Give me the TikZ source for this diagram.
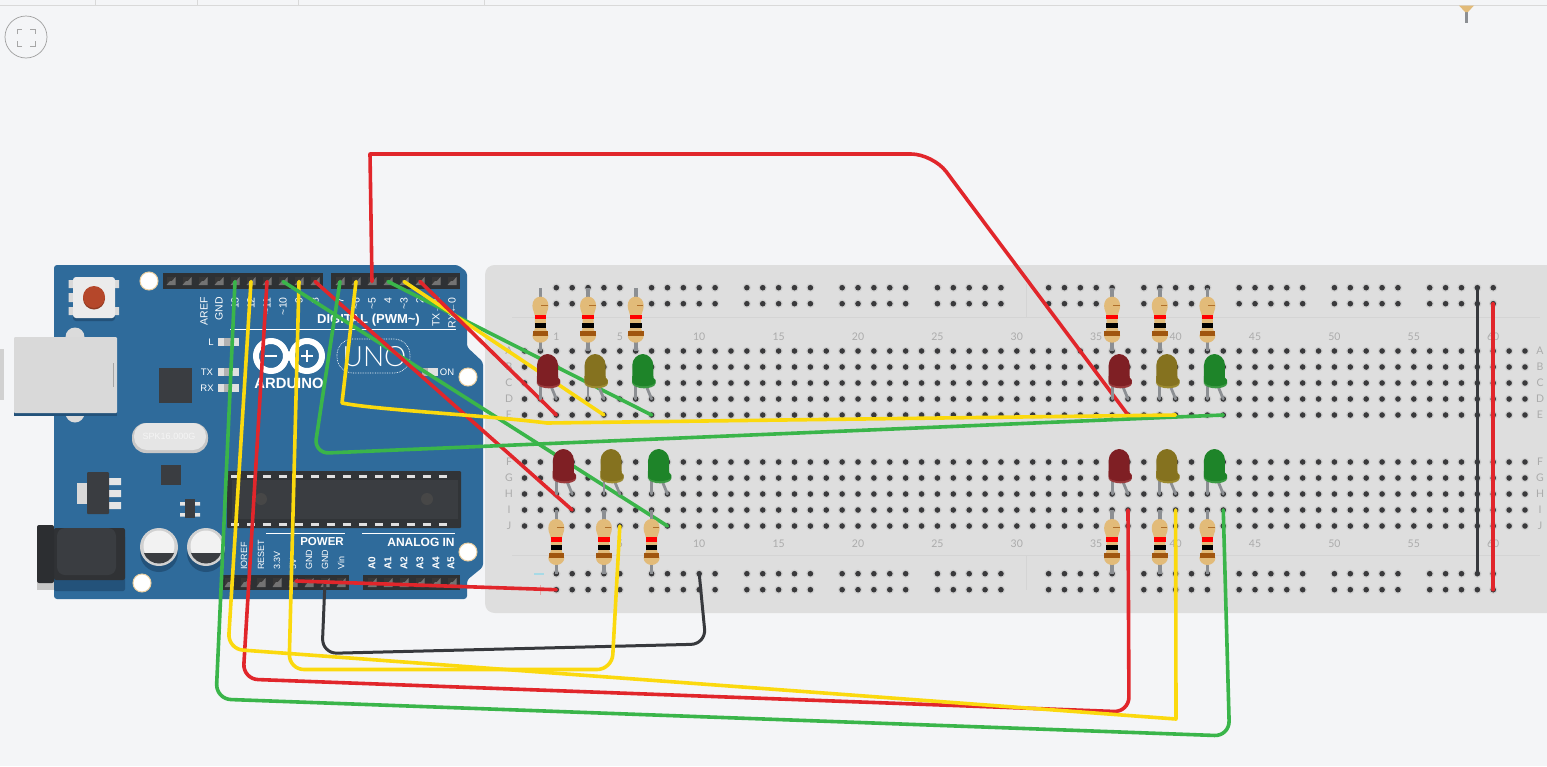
\documentclass[tikz,border=0pt]{standalone}
\usepackage{fontspec}
\setmainfont{Liberation Sans}
\newfontfamily\thinfont{Lato}
\newfontfamily\unofont{Lato Light}
\usetikzlibrary{calc}
\definecolor{bgc}{HTML}{F4F5F7}
\definecolor{boardc}{HTML}{DEDEDE}
\definecolor{unoblue}{HTML}{2F6B9B}
\definecolor{unoshade}{HTML}{23527A}
\definecolor{chipc}{HTML}{3A3D41}
\definecolor{holec}{HTML}{3A3A3C}
\definecolor{halo}{HTML}{CFCFCF}
\definecolor{wred}{HTML}{E1262B}
\definecolor{wyel}{HTML}{FBD90E}
\definecolor{wgrn}{HTML}{3AB54A}
\definecolor{wblk}{HTML}{37393D}
\definecolor{ledr}{HTML}{7F1F24}
\definecolor{ledrb}{HTML}{9A3A3C}
\definecolor{ledy}{HTML}{85721F}
\definecolor{ledyb}{HTML}{9C8A30}
\definecolor{ledg}{HTML}{1E8429}
\definecolor{ledgb}{HTML}{3C9A44}
\definecolor{legc}{HTML}{8C8F93}
\definecolor{resb}{HTML}{E2BB79}
\definecolor{brownb}{HTML}{A0560F}
\definecolor{labelc}{HTML}{ABABAB}
\definecolor{btnc}{HTML}{B5472A}
\definecolor{btns}{HTML}{8F3A22}
\tikzset{
  wire/.style={line width=3.6pt,line cap=round,line join=round},
  unotext/.style={text=white,font=\bfseries\fontsize{10}{10}\selectfont,inner sep=0pt},
  unorot/.style={text=white,font=\fontsize{10.5}{10}\selectfont,inner sep=0pt,rotate=90,anchor=east},
  unoup/.style={text=white,font=\fontsize{9.5}{10}\selectfont,inner sep=0pt,rotate=90,anchor=west},
  boardlabel/.style={text=labelc,font=\thinfont\fontsize{10.5}{10}\selectfont,inner sep=0pt},
}
\newcommand{\hx}[1]{{556.3+15.88*(#1)}}
\newcommand{\hole}[2]{\fill[halo] (#1,#2) circle (4.2);\fill[holec] (#1,#2) circle (2.8);}
\newcommand{\resistor}[3]{% column, lead top y, unused
  \begin{scope}[shift={({\hx{#1}},#2)}]
    \fill[legc] (-1.8,0) rectangle (1.8,63.7);
    \fill[resb] (0,9) .. controls (5,9) and (8,13) .. (8,18) .. controls (8,23) and (5.5,25) .. (5.5,28) -- (5.5,41) .. controls (5.5,43) and (8,45) .. (8,48) .. controls (8,52) and (4,55) .. (0,55) .. controls (-4,55) and (-8,52) .. (-8,48) .. controls (-8,45) and (-5.5,43) .. (-5.5,41) -- (-5.5,28) .. controls (-5.5,25) and (-8,23) .. (-8,18) .. controls (-8,13) and (-5,9) .. (0,9) -- cycle;
    \fill[red] (-5.8,27) rectangle (5.8,31.6);
    \fill[black] (-5.8,35.2) rectangle (5.8,39.8);
    \fill[brownb] (-7.8,43.2) rectangle (7.8,47.8);
    \fill[brownb!75!resb] (1,17.2) rectangle (7.5,18);
  \end{scope}}
\newcommand{\ledlamp}[4]{% column, top y, fill, rim
  \begin{scope}[shift={({\hx{#1}},#2)}]
    \draw[legc,line width=2.8pt,line cap=round] (0,32) -- (0,45);
    \draw[legc,line width=2.8pt,line cap=round] (10.5,32) -- (15.9,45);
    \fill[#4] (-3.6,22) -- (-3.6,29) .. controls (-2,36) and (18.5,36) .. (19.8,29.5) -- (19.8,26) -- (17.6,23.5) -- (17.6,22) -- cycle;
    \fill[#3] (-3.4,11) .. controls (-3.4,5) and (1.8,0) .. (7.1,0) .. controls (12.4,0) and (17.6,5) .. (17.6,11) -- (17.6,24) -- (19.6,26.5) -- (19.6,28.5) .. controls (18,33) and (-2,34) .. (-3.4,27.5) -- cycle;
  \end{scope}}
\begin{document}
\begin{tikzpicture}[x=1pt,y=-1pt]
\useasboundingbox (0,0) rectangle (1547,766);
\fill[bgc] (0,0) rectangle (1547,766);
% top chrome
\draw[black!15,line width=.8pt] (0,5.5) -- (1547,5.5);
\foreach \x in {95,197,298,484} \draw[black!15,line width=.8pt] (\x,0) -- (\x,5.5);
\draw[black!38,line width=.7pt,fill=bgc] (26,37) circle (21);
\draw[black!35,line width=1pt] (17,34) -- (17,29) -- (22,29) (30,29) -- (35,29) -- (35,34) (35,41) -- (35,46) -- (30,46) (22,46) -- (17,46) -- (17,41);
\fill[legc] (1465,8) rectangle (1468,23);
\fill[resb] (1459,5.5) -- (1474,5.5) -- (1468,12) -- (1465,12) -- cycle;
% left edge stub
\fill[black!18] (0,349) rectangle (4,400);
%---------- breadboard
\fill[boardc] (495,265) -- (1560,265) -- (1560,613) -- (495,613) .. controls (490,613) and (485,610) .. (485,603) -- (485,275) .. controls (485,268) and (490,265) .. (495,265) -- cycle;
\draw[black!17,line width=.6pt] (512,317) -- (1540,317) (512,555.5) -- (1540,555.5);
\draw[black!17,line width=.6pt] (1026,284) -- (1026,317) (1026,555.5) -- (1026,590);
\foreach \y in {351,367,383,399,415,462,478,494,510,526}
  \foreach \i in {-2,...,61} {\pgfmathsetmacro{\xx}{556.3+15.88*\i}\hole{\xx}{\y}}
\foreach \y in {287.7,303.7,573.7,589.7}
  \foreach \g in {0,6,12,18,24,31,37,43,49,55}
    \foreach \k in {0,...,4} {\pgfmathsetmacro{\xx}{556.3+15.88*(\g+\k)}\hole{\xx}{\y}}
\fill[blue!20!cyan!25!boardc] (534,573) rectangle (544,574.5);
\draw[red!25!boardc,line width=.8pt] (535,590) -- (545,590) (540,585) -- (540,595);
\foreach \n/\x in {1/556.3,5/619.8,10/699.2,15/778.6,20/858,25/937.4,30/1016.8,35/1096.2,40/1175.6,45/1255,50/1334.4,55/1413.8,60/1493.2} {
  \node[boardlabel] (tn\n) at (\x,337) {\n};
  \node[boardlabel] (bn\n) at (\x,543.5) {\n};
}
\foreach \t/\y in {A/351,B/367,C/383,D/399,E/415,F/462,G/478,H/494,I/510,J/526} {
  \node[boardlabel] (ll\t) at (509,\y) {\t};
  \node[boardlabel] (rl\t) at (1540,\y) {\t};
}
%---------- Arduino
\fill[unoblue,rounded corners=3] (54,265) -- (458,265) -- (467,272) -- (467,347) -- (483,362) -- (483,567) -- (467,580) -- (467,599) -- (54,599) -- cycle;
% USB
\fill[black!14] (75,337) circle (9.5) (75,413) circle (9.5);
\fill[unoshade] (14,339) rectangle (117,415.5);
\fill[black!15,rounded corners=1] (14,337) rectangle (117,413);
\draw[black!35,line width=.7pt] (113.5,363) -- (113.5,387);
% reset button
\fill[unoshade,rounded corners=3] (73,280) rectangle (115,321);
\fill[black!15] (68.5,280) rectangle (73,288) (68.5,293) rectangle (73,302) (68.5,307) rectangle (73,315) (115,280) rectangle (119,288) (115,307) rectangle (119,315);
\fill[black!8,rounded corners=3] (73,277) rectangle (115,318);
\fill[btns] (94,298.5) circle (11);
\fill[btnc] (94,297) circle (11);
% header strips
\fill[chipc!80!black] (163,273) rectangle (323,289);
\fill[chipc!80!black] (331,273) rectangle (460,289);
\fill[chipc!80!black] (223,575) rectangle (349,590);
\fill[chipc!80!black] (363,575) rectangle (460,590);
\foreach \x in {171,187,...,315,340,356,...,452}
  {\fill[black!78] (\x-4.5,277) rectangle (\x+4.5,285); \fill[black!55] (\x+4.5,277) -- (\x+4.5,285) -- (\x-4.5,285) -- (\x-1,281) -- (\x+1,281) -- cycle;}
\foreach \x in {229,245,...,341,372,388,...,452}
  {\fill[black!78] (\x-4.5,578) rectangle (\x+4.5,587); \fill[black!55] (\x+4.5,578) -- (\x+4.5,587) -- (\x-4.5,587) -- (\x-1,582) -- (\x+1,582) -- cycle;}
% mounting holes
\foreach \n/\x/\y in {m1/149/281,m2/468/377,m3/468/552,m4/142/583}
  \node[circle,draw=resb!70!white,line width=1pt,fill=white,minimum size=18pt,inner sep=0pt] (\n) at (\x,\y) {};
% silk text
\foreach \n/\x/\t in {a/204/AREF,b/219/GND,c/235/13,d/251/12,e/267/\textasciitilde 11,f/283/\textasciitilde 10,g/299/9,h/315/8,i/340/7,j/356/\textasciitilde 6,k/372/\textasciitilde 5,l/388/4,m/404/\textasciitilde 3,n/420/2,o/436/TX→1,p/452/RX←0}
  \node[unorot] (top\n) at (\x,297) {\t};
\node[unotext,anchor=east,font=\bfseries\fontsize{13}{13}\selectfont] (digital) at (420,320.5) {DIGITAL (PWM\textasciitilde)};
\draw[white,line width=1pt] (230,329) -- (456,329);
\node[unotext,font=\fontsize{9.5}{10}\selectfont] (lL) at (211,342) {L};
\node[unotext,font=\fontsize{9.5}{10}\selectfont] (lTX) at (207,372.5) {TX};
\node[unotext,font=\fontsize{9.5}{10}\selectfont] (lRX) at (207,388) {RX};
\node[unotext,font=\fontsize{9.5}{10}\selectfont] (lON) at (447,372) {ON};
\foreach \y in {342,372,388} {\fill[black!12] (218,\y-3.8) rectangle (239,\y+3.8); \fill[black!30] (224,\y-3.8) rectangle (232,\y+3.8);}
\fill[black!12] (422,368) rectangle (438,375.5); \fill[black!30] (422,368) rectangle (428,375.5);
% logo
\draw[white,line width=5pt] (280,345) -- (298,367) (280,367) -- (298,345);
\fill[unoblue] (271,356) circle (12) (307,356) circle (12);
\draw[white,line width=6pt] (271,356) circle (15) (307,356) circle (15);
\draw[white,line width=2.2pt] (265,356) -- (277,356) (301,356) -- (313,356) (307,350) -- (307,362);
\node[unotext,font=\bfseries\fontsize{14.8}{15}\selectfont] (ardu) at (289,383) {ARDUINO};
\node[text=white,inner sep=0pt,font=\unofont\fontsize{28}{28}\selectfont] (uno) at (374.5,356.5) {UNO};
\draw[white,densely dotted,line width=.7pt,rounded corners=16] (337,339) rectangle (410,373);
\node[unotext,font=\bfseries\fontsize{11.5}{12}\selectfont] (lpower) at (322,542) {POWER};
\node[unotext,font=\bfseries\fontsize{12}{12}\selectfont] (lanalog) at (421,542) {ANALOG IN};
\draw[white,line width=1pt] (266,533) -- (345,533) (362,533) -- (455,533);
\foreach \n/\x/\t in {a/244/IOREF,b/261/RESET,c/277/3.3V,d/293/5V,e/309/GND,f/325/GND,g/341/Vin}
  \node[unoup,font=\fontsize{9}{10}\selectfont] (bot\n) at (\x,570) {\t};
\foreach \n/\x/\t in {a/372/A0,b/388/A1,c/404/A2,d/420/A3,e/436/A4,f/451/A5}
  \node[unoup,font=\bfseries\fontsize{10}{10}\selectfont] (an\n) at (\x,570) {\t};
% ICs
\fill[chipc] (159,368) rectangle (192,403);
\fill[chipc] (161,465) rectangle (181,485);
\fill[black!10] (109,478) rectangle (121,485) (109,490) rectangle (121,497) (109,502) rectangle (121,509);
\fill[white!85!black] (77,483) rectangle (87,504);
\fill[chipc,rounded corners=1] (87,472) rectangle (109,514);
\fill[black!10] (180,502) rectangle (200,505.5) (180,513) rectangle (200,516.5);
\fill[chipc] (185,499) rectangle (195,518);
% crystal
\fill[black!22,rounded corners=14] (132,423) rectangle (208,453);
\fill[black!10,rounded corners=13] (134,423) rectangle (206,450);
\node[text=white,inner sep=0pt,opacity=.6,font=\fontsize{9}{9}\selectfont] (xtal) at (169,436) {SPK16.000G};
% ATmega
\fill[chipc!85!black,rounded corners=1] (227,471) rectangle (461,528);
\foreach \x in {235,251,...,447} {\fill[white!88!black] (\x-4,474.5) rectangle (\x+4,478); \fill[white!88!black] (\x-4,522.5) rectangle (\x+4,526);}
\fill[chipc] (232,480) rectangle (458,519);
\fill[black!72] (261,499) circle (6) (427,499) circle (6);
% power jack
\fill[unoshade,rounded corners=2] (54,535) rectangle (125,591);
\fill[chipc!82!black,rounded corners=2] (54,528) rectangle (125,580);
\fill[chipc,rounded corners=8] (57,528) rectangle (116,575);
\fill[black!22] (37,580) rectangle (54,590);
\fill[chipc!75!black,rounded corners=2] (37,525) rectangle (54,583);
% capacitors
\foreach \x/\n in {159/1,206/2} {
  \fill[unoshade] (\x,553) circle (19);
  \fill[black!18] (\x,547) circle (19);
  \fill[black!5] (\x,546) circle (15.5);
  \fill[chipc] (\x-15,553) -- (\x+15,553) .. controls (\x+10,567) and (\x-10,567) .. (\x-15,553) -- cycle;
}
%---------- wire end points
\foreach \n/\x in {p13/235,p12/251,p11/267,p10/283,p9/299,p8/315,p7/340,p6/356,p5/372,p4/388,p3/404,p2/420}
  \coordinate (\n) at (\x,281.5);
\coordinate (p5v) at (296,581);
\coordinate (pgnd) at (325,581);
\foreach \n/\i/\y in {e0/0/415,e3/3/415,e6/6/415,j7/7/526,i1/1/510,j4/4/526,e36/36/415,e39/39/415,e42/42/415,i36/36/510,i39/39/510,i42/42/510,rm/0/589.7,rg/9/573.7} {
  \pgfmathsetmacro{\xx}{556.3+15.88*\i}
  \coordinate (\n) at (\xx,\y);
}
\coordinate (rt1) at (1477.3,287.7);
\coordinate (rt2) at (1493.2,303.7);
\coordinate (rb1) at (1477.3,573.7);
\coordinate (rb2) at (1493.2,589.7);
%---------- wires
\draw[wire,wblk,line width=3pt,rounded corners=15] (pgnd) -- (322,653.5) -- (706,644) -- (rg);
\draw[wire,wgrn,rounded corners=15] (p13) -- (216,699) -- (1229.5,736) -- (i42);
\draw[wire,wred,rounded corners=15] (p11) -- (243,679) -- (1129,712) -- (i36);
\draw[wire,wyel,rounded corners=15] (p9) -- (289,669.5) -- (612,669.5) -- (j4);
\draw[wire,wyel] (p12) [rounded corners=15] -- (228,649) [sharp corners] -- (1176,719) -- (i39);
\draw[wire,wred] (p5) -- (370,154) [rounded corners=22] -- (933,154) [sharp corners] -- (e36);
\draw[wire,wgrn] (p10) -- (j7);
\draw[wire,wred] (p8) -- (i1);
\draw[wire,wgrn,rounded corners=15] (p7) -- (314,453.5) -- (e42);
\draw[wire,wyel] (p6) -- (342,403) .. controls (377,410) and (483,415) .. (547,423) -- (e39);
\draw[wire,wgrn] (p4) -- (e6);
\draw[wire,wyel] (p3) -- (e3);
\draw[wire,wred] (p2) -- (e0);
\draw[wire,wred] (p5v) -- (rm);
\draw[wire,wblk] (rt1) -- (rb1);
\draw[wire,wred] (rt2) -- (rb2);
%---------- resistors and LEDs
\foreach \i in {-1,2,5,35,38,41} \resistor{\i}{287.7}{};
\foreach \i in {0,3,6,35,38,41} \resistor{\i}{510}{};
\ledlamp{-1}{354}{ledr}{ledrb}
\ledlamp{2}{354}{ledy}{ledyb}
\ledlamp{5}{354}{ledg}{ledgb}
\ledlamp{35}{354}{ledr}{ledrb}
\ledlamp{38}{354}{ledy}{ledyb}
\ledlamp{41}{354}{ledg}{ledgb}
\ledlamp{0}{449}{ledr}{ledrb}
\ledlamp{3}{449}{ledy}{ledyb}
\ledlamp{6}{449}{ledg}{ledgb}
\ledlamp{35}{449}{ledr}{ledrb}
\ledlamp{38}{449}{ledy}{ledyb}
\ledlamp{41}{449}{ledg}{ledgb}
\end{tikzpicture}
\end{document}
